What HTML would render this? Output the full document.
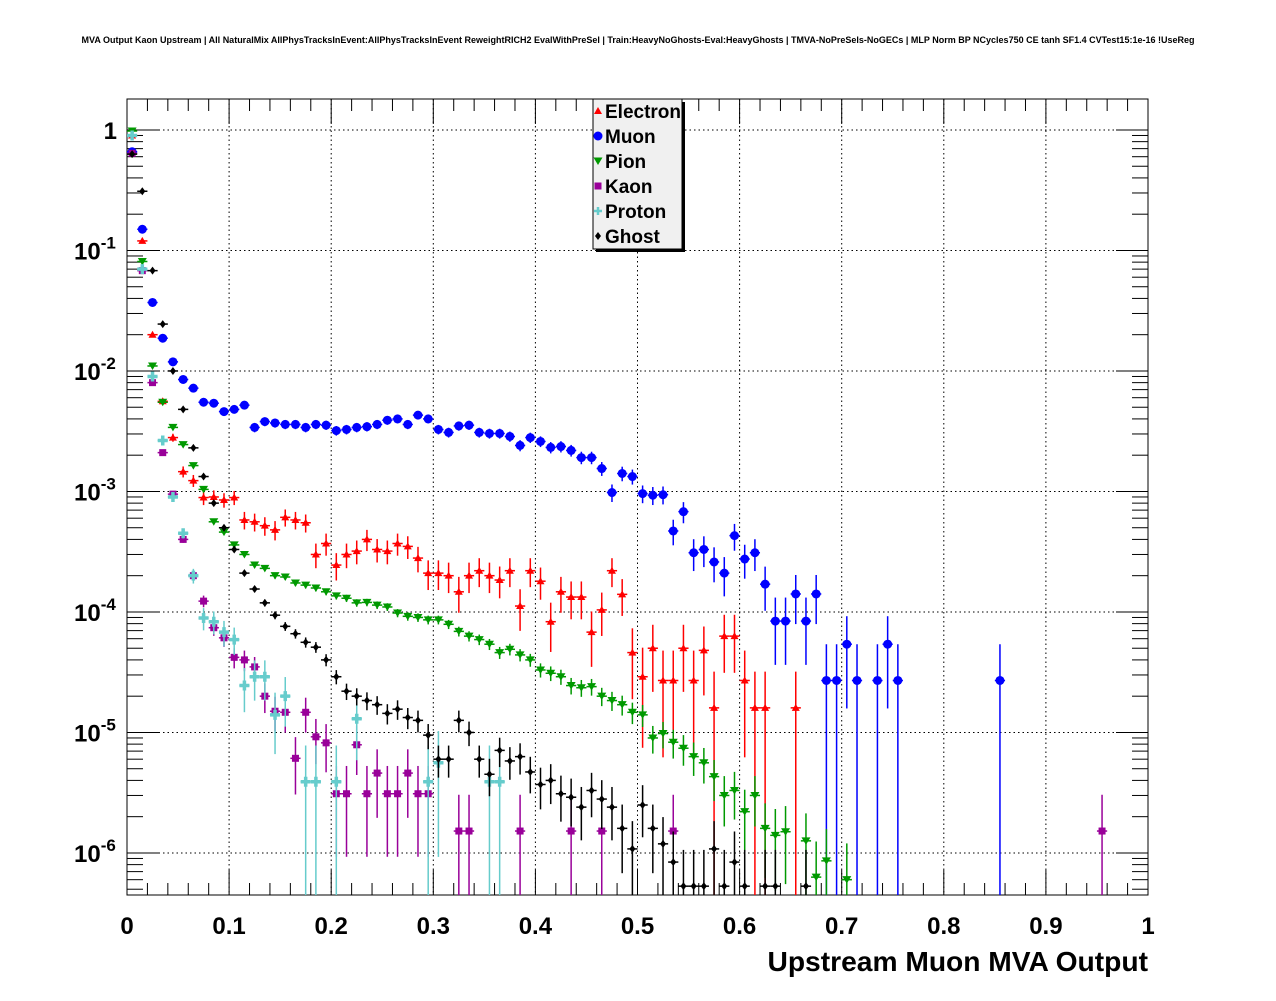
<!DOCTYPE html>
<html><head><meta charset="utf-8"><style>
body{margin:0;background:#fff;}
svg text{font-family:"Liberation Sans",sans-serif;font-weight:bold;}
</style></head><body>
<svg id="c" width="1276" height="996" xmlns="http://www.w3.org/2000/svg">
<text x="638" y="43" font-size="9" text-anchor="middle">MVA Output Kaon Upstream | All NaturalMix AllPhysTracksInEvent:AllPhysTracksInEvent ReweightRICH2 EvalWithPreSel | Train:HeavyNoGhosts-Eval:HeavyGhosts | TMVA-NoPreSels-NoGECs | MLP Norm BP NCycles750 CE tanh SF1.4 CVTest15:1e-16 !UseReg</text>
<g id="grid"></g><g id="axes"></g><g id="marks"></g>
<text x="1148" y="971" font-size="28.2" text-anchor="end">Upstream Muon MVA Output</text>
<g id="legend">
<rect x="596" y="102" width="89" height="150" fill="#000"/>
<rect x="593" y="99" width="89" height="150" fill="#f0f0f0" stroke="#000" stroke-width="1"/>
</g>
</svg>
<script>
const electronX=[0.005,0.015,0.025,0.035,0.045,0.055,0.065,0.075,0.085,0.095,0.105,0.115,0.125,0.135,0.145,0.155,0.165,0.175,0.185,0.195,0.205,0.215,0.225,0.235,0.245,0.255,0.265,0.275,0.285,0.295,0.305,0.315,0.325,0.335,0.345,0.355,0.365,0.375,0.385,0.395,0.405,0.415,0.425,0.435,0.445,0.455,0.465,0.475,0.485,0.495,0.505,0.515,0.525,0.535,0.545,0.555,0.565,0.575,0.585,0.595,0.605,0.615,0.625,0.655];
const electronY=[0.9,0.12,0.02,5.6e-3,2.8e-3,1.46e-3,1.23e-3,8.9e-4,9.0e-4,8.5e-4,8.9e-4,5.8e-4,5.6e-4,5.2e-4,4.8e-4,6.1e-4,5.8e-4,5.5e-4,3.0e-4,3.7e-4,2.45e-4,3.0e-4,3.2e-4,4.0e-4,3.3e-4,3.2e-4,3.7e-4,3.5e-4,2.8e-4,2.1e-4,2.1e-4,2.0e-4,1.47e-4,2.0e-4,2.2e-4,2.0e-4,1.84e-4,2.2e-4,1.12e-4,2.2e-4,1.8e-4,8.3e-5,1.47e-4,1.33e-4,1.33e-4,6.8e-5,1.04e-4,2.2e-4,1.4e-4,4.6e-5,2.9e-5,5.0e-5,2.7e-5,2.7e-5,5.0e-5,2.7e-5,4.8e-5,1.6e-5,6.3e-5,6.3e-5,2.7e-5,1.6e-5,1.6e-5,1.6e-5];
const muonX=[0.005,0.015,0.025,0.035,0.045,0.055,0.065,0.075,0.085,0.095,0.105,0.115,0.125,0.135,0.145,0.155,0.165,0.175,0.185,0.195,0.205,0.215,0.225,0.235,0.245,0.255,0.265,0.275,0.285,0.295,0.305,0.315,0.325,0.335,0.345,0.355,0.365,0.375,0.385,0.395,0.405,0.415,0.425,0.435,0.445,0.455,0.465,0.475,0.485,0.495,0.505,0.515,0.525,0.535,0.545,0.555,0.565,0.575,0.585,0.595,0.605,0.615,0.625,0.635,0.645,0.655,0.665,0.675,0.685,0.695,0.705,0.715,0.735,0.745,0.755,0.855];
const muonY=[0.66,0.15,0.037,0.0187,0.0119,8.5e-3,7.2e-3,5.5e-3,5.4e-3,4.6e-3,4.8e-3,5.2e-3,3.4e-3,3.8e-3,3.7e-3,3.6e-3,3.6e-3,3.4e-3,3.6e-3,3.55e-3,3.2e-3,3.27e-3,3.4e-3,3.45e-3,3.6e-3,3.9e-3,4.0e-3,3.6e-3,4.3e-3,4.0e-3,3.27e-3,3.09e-3,3.5e-3,3.55e-3,3.09e-3,3.03e-3,3.03e-3,2.86e-3,2.41e-3,2.8e-3,2.6e-3,2.32e-3,2.36e-3,2.19e-3,1.91e-3,1.91e-3,1.55e-3,0.98e-3,1.41e-3,1.33e-3,0.96e-3,0.93e-3,0.94e-3,4.7e-4,6.8e-4,3.1e-4,3.3e-4,2.6e-4,2.1e-4,4.3e-4,2.75e-4,3.1e-4,1.7e-4,8.4e-5,8.4e-5,1.41e-4,8.4e-5,1.41e-4,2.7e-5,2.7e-5,5.4e-5,2.7e-5,2.7e-5,5.4e-5,2.7e-5,2.7e-5];
const pionX=[0.005,0.015,0.025,0.035,0.045,0.055,0.065,0.075,0.085,0.095,0.105,0.115,0.125,0.135,0.145,0.155,0.165,0.175,0.185,0.195,0.205,0.215,0.225,0.235,0.245,0.255,0.265,0.275,0.285,0.295,0.305,0.315,0.325,0.335,0.345,0.355,0.365,0.375,0.385,0.395,0.405,0.415,0.425,0.435,0.445,0.455,0.465,0.475,0.485,0.495,0.505,0.515,0.525,0.535,0.545,0.555,0.565,0.575,0.585,0.595,0.605,0.615,0.625,0.635,0.645,0.665,0.675,0.685,0.705];
const pionY=[0.98,0.081,0.011,5.5e-3,3.4e-3,2.45e-3,1.64e-3,1.04e-3,5.6e-4,4.6e-4,3.6e-4,3.0e-4,2.45e-4,2.3e-4,2.0e-4,1.95e-4,1.74e-4,1.67e-4,1.58e-4,1.47e-4,1.36e-4,1.3e-4,1.19e-4,1.2e-4,1.14e-4,1.1e-4,9.8e-5,9.2e-5,9.0e-5,8.6e-5,8.6e-5,7.9e-5,6.9e-5,6.3e-5,5.9e-5,5.4e-5,4.6e-5,4.9e-5,4.4e-5,4.0e-5,3.3e-5,3.1e-5,2.9e-5,2.45e-5,2.35e-5,2.4e-5,2.0e-5,1.84e-5,1.7e-5,1.47e-5,1.4e-5,9.0e-6,9.8e-6,8.3e-6,7.4e-6,6.3e-6,5.6e-6,4.3e-6,3.0e-6,3.3e-6,2.2e-6,3.0e-6,1.6e-6,1.4e-6,1.5e-6,1.26e-6,0.63e-6,0.86e-6,0.6e-6];
const kaonX=[0.005,0.015,0.025,0.035,0.045,0.055,0.065,0.075,0.085,0.095,0.105,0.115,0.125,0.135,0.145,0.155,0.165,0.175,0.185,0.195,0.205,0.215,0.225,0.235,0.245,0.255,0.265,0.275,0.285,0.295,0.325,0.335,0.385,0.435,0.465,0.535,0.955];
const kaonY=[0.64,0.068,8.0e-3,2.1e-3,9.5e-4,4.0e-4,2.0e-4,1.23e-4,7.4e-5,6.1e-5,4.2e-5,4.0e-5,3.5e-5,2.0e-5,1.5e-5,1.47e-5,6.1e-6,1.47e-5,9.2e-6,8.2e-6,3.1e-6,3.1e-6,7.9e-6,3.1e-6,4.6e-6,3.1e-6,3.1e-6,4.6e-6,3.1e-6,3.1e-6,1.52e-6,1.52e-6,1.52e-6,1.52e-6,1.52e-6,1.52e-6,1.52e-6];
const protonX=[0.005,0.015,0.025,0.035,0.045,0.055,0.065,0.075,0.085,0.095,0.105,0.115,0.125,0.135,0.145,0.155,0.175,0.185,0.205,0.225,0.295,0.305,0.355,0.365];
const protonY=[0.9,0.07,9e-3,2.65e-3,9.0e-4,4.5e-4,2.0e-4,8.9e-5,8.3e-5,6.8e-5,5.9e-5,2.45e-5,2.9e-5,2.9e-5,1.4e-5,2.0e-5,3.9e-6,3.9e-6,3.9e-6,1.3e-5,3.9e-6,5.6e-6,3.9e-6,3.9e-6];
const ghostX=[0.005,0.015,0.025,0.035,0.045,0.055,0.065,0.075,0.085,0.095,0.105,0.115,0.125,0.135,0.145,0.155,0.165,0.175,0.185,0.195,0.205,0.215,0.225,0.235,0.245,0.255,0.265,0.275,0.285,0.295,0.305,0.315,0.325,0.335,0.345,0.355,0.365,0.375,0.385,0.395,0.405,0.415,0.425,0.435,0.445,0.455,0.465,0.475,0.485,0.495,0.505,0.515,0.525,0.535,0.545,0.555,0.565,0.575,0.585,0.595,0.605,0.625,0.635,0.665];
const ghostY=[0.63,0.31,0.068,0.0245,0.01,4.8e-3,2.3e-3,1.33e-3,8.0e-4,5.0e-4,3.3e-4,2.1e-4,1.55e-4,1.19e-4,9.4e-5,7.6e-5,6.6e-5,5.6e-5,5.1e-5,4.0e-5,2.9e-5,2.2e-5,2.0e-5,1.84e-5,1.7e-5,1.44e-5,1.56e-5,1.33e-5,1.26e-5,9.5e-6,6.0e-6,6.0e-6,1.26e-5,1.0e-5,6.0e-6,4.5e-6,7.1e-6,5.8e-6,6.3e-6,4.7e-6,3.7e-6,4.0e-6,3.1e-6,2.9e-6,2.4e-6,3.3e-6,2.8e-6,2.4e-6,1.6e-6,1.08e-6,2.5e-6,1.6e-6,1.19e-6,0.84e-6,0.53e-6,0.53e-6,0.53e-6,1.08e-6,0.53e-6,0.84e-6,0.53e-6,0.53e-6,0.53e-6,0.53e-6];
const unitWeights=[1.6e-5,2.7e-5,0.6e-6,1.52e-6,3.9e-6,0.53e-6];
const xTickLabels=["0","0.1","0.2","0.3","0.4","0.5","0.6","0.7","0.8","0.9","1"];
const yDecades=[0,-1,-2,-3,-4,-5,-6];

const X0=127,X1=1148,Y0=99,Y1=895;
const LOGTOP=0.257, LOGBOT=-6.349;
function sx(v){return X0+(X1-X0)*v;}
function sy(v){const l=Math.log10(Math.max(v,1e-12));return Y0+(LOGTOP-l)/(LOGTOP-LOGBOT)*(Y1-Y0);}
const NS="http://www.w3.org/2000/svg";
function mk(t,a,p){const e=document.createElementNS(NS,t);for(const k in a)e.setAttribute(k,a[k]);p.appendChild(e);return e;}
const grid=document.getElementById('grid'),axes=document.getElementById('axes'),marks=document.getElementById('marks');
for(let i=1;i<10;i++){const g=mk('line',{x1:sx(i/10),x2:sx(i/10),y1:Y0,y2:Y1,stroke:'#000','stroke-dasharray':'1.5,3','stroke-width':1},grid);

}
yDecades.forEach(d=>{const g=mk('line',{x1:X0,x2:X1,y1:sy(Math.pow(10,d)),y2:sy(Math.pow(10,d)),stroke:'#000','stroke-dasharray':'1.5,3','stroke-width':1},grid);

});
const fr=mk('rect',{x:X0,y:Y0,width:X1-X0,height:Y1-Y0,fill:'none',stroke:'#000','stroke-width':1},axes);


for(let i=0;i<=50;i++){const x=sx(i/50);const L=(i%5==0)?25:12;
mk('line',{x1:x,x2:x,y1:Y1,y2:Y1-L,stroke:'#000'},axes);
mk('line',{x1:x,x2:x,y1:Y0,y2:Y0+L,stroke:'#000'},axes);}
xTickLabels.forEach((t,i)=>{const e=mk('text',{x:sx(i/10),y:934,'font-size':24,'text-anchor':'middle'},axes);e.textContent=t;

});
for(let d=-7;d<=0;d++){for(let m=1;m<10;m++){const v=m*Math.pow(10,d);const y=sy(v);if(y<Y0||y>Y1)continue;const L=m==1?32:16;
mk('line',{x1:X0,x2:X0+L,y1:y,y2:y,stroke:'#000'},axes);
mk('line',{x1:X1,x2:X1-L,y1:y,y2:y,stroke:'#000'},axes);}}
yDecades.forEach(d=>{const y=sy(Math.pow(10,d));const e=mk('text',{x:d==0?117:98,y:y+9,'font-size':24,'text-anchor':'end'},axes);


if(d==0){e.textContent='1';}else{e.setAttribute('x',74);e.setAttribute('text-anchor','start');e.textContent='10';const s=mk('tspan',{dy:-11,'font-size':17},e);s.textContent=String(d);}});
function marker(type,x,y,col,p){
 if(type=='tri')return mk('polygon',{points:`${x},${y-4} ${x-4},${y+3} ${x+4},${y+3}`,fill:col},p);
 if(type=='circ')return mk('circle',{cx:x,cy:y,r:4.5,fill:col},p);
 if(type=='tdown')return mk('polygon',{points:`${x},${y+4} ${x-4.5},${y-3.5} ${x+4.5},${y-3.5}`,fill:col},p);
 if(type=='sq')return mk('rect',{x:x-3.5,y:y-3.5,width:7,height:7,fill:col},p);
 if(type=='cross')return mk('path',{d:`M${x-5},${y}H${x+5}M${x},${y-5}V${y+5}`,stroke:col,'stroke-width':3.5},p);
 return mk('polygon',{points:`${x},${y-4} ${x+3},${y} ${x},${y+4} ${x-3},${y}`,fill:col},p);}
const series=[
 ['electron',electronX,electronY,'#f00','tri'],
 ['muon',muonX,muonY,'#00f','circ'],
 ['pion',pionX,pionY,'#090','tdown'],
 ['kaon',kaonX,kaonY,'#909','sq'],
 ['proton',protonX,protonY,'#6cc','cross'],
 ['ghost',ghostX,ghostY,'#000','dia']];
series.forEach((s,si)=>{
 const [name,xs,ys,col,type]=s;const g=mk('g',{},marks);
 
 
 xs.forEach((xv,i)=>{const v=ys[i];const w=unitWeights[si];const err=Math.sqrt(v*w);
  const x=sx(xv),y=sy(v);
  const lo=v-err>0?sy(v-err):Y1;const hi=sy(v+err);
  mk('line',{x1:x,x2:x,y1:Math.min(lo,Y1),y2:Math.max(hi,Y0),stroke:col,'stroke-width':1.5},g);
  mk('line',{x1:sx(xv-0.005),x2:sx(xv+0.005),y1:y,y2:y,stroke:col,'stroke-width':1.5},g);
  const m=marker(type,x,y,col,g);
  
  });
});
const lg=document.getElementById('legend');
series.forEach((s,i)=>{const y=111+25*i;const lab=s[0][0].toUpperCase()+s[0].slice(1);
 const m=marker(s[4],598,y,s[3],lg);
 if(s[4]=='cross'){m.setAttribute('d',`M594,${y}H602M598,${y-4}V${y+4}`);m.setAttribute('stroke-width',2.5);}
 
 
 const t=mk('text',{x:605,y:y+7,'font-size':19},lg);t.textContent=lab;
 
 });
</script>
</body></html>
